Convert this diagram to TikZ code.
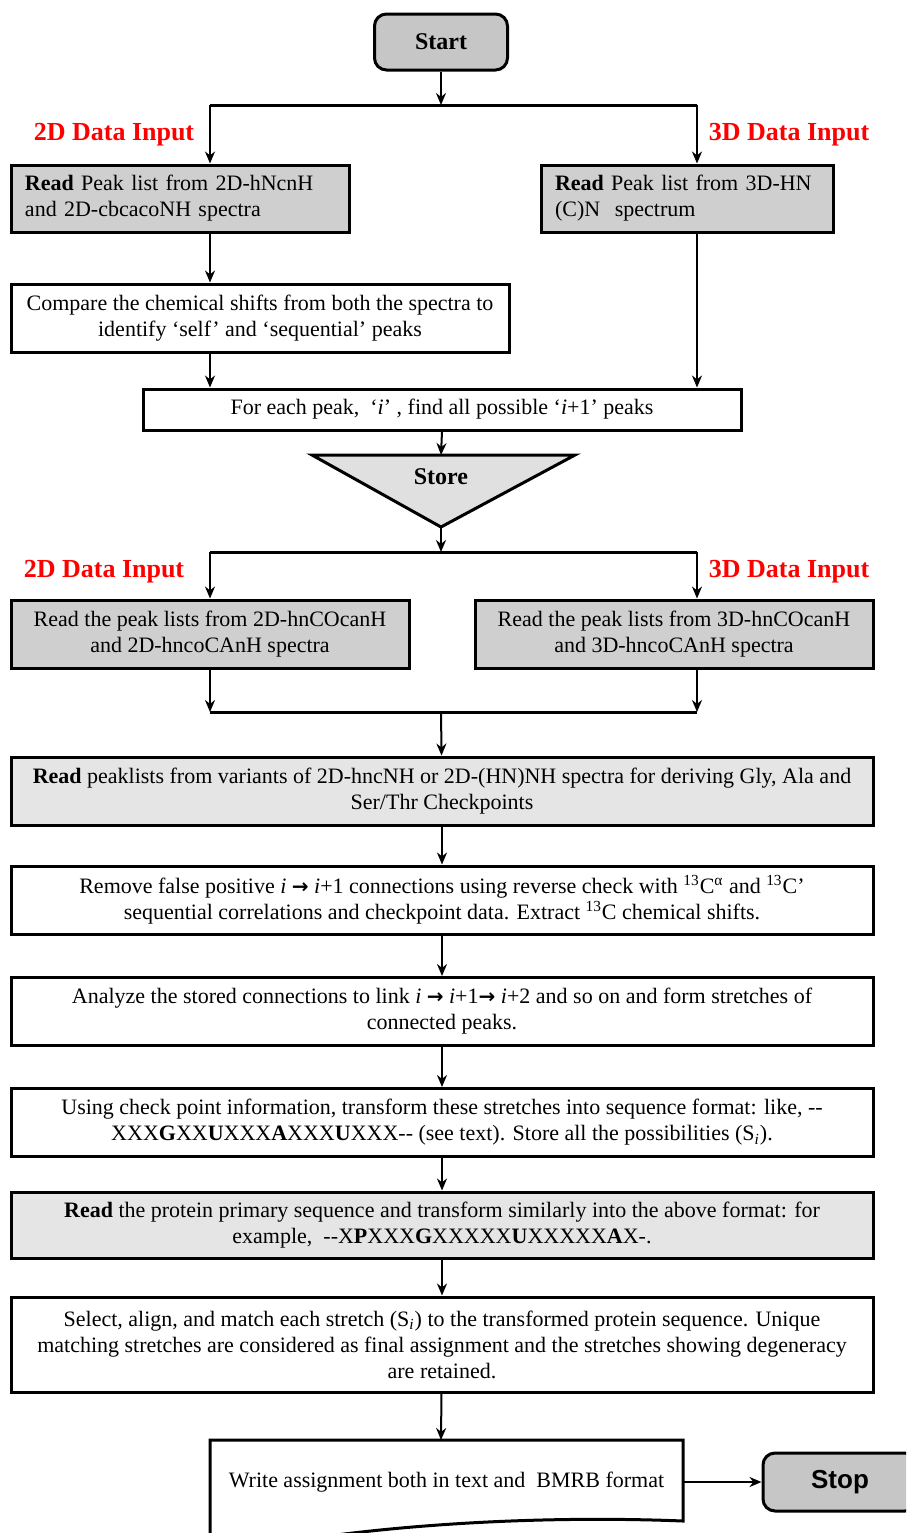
\documentclass[tikz,border=0pt]{standalone}
\usepackage{fontspec}
\setmainfont{Liberation Serif}
\newfontfamily\stopfont{Liberation Sans}
\newfontfamily\arrowfont{DejaVu Sans}
\usetikzlibrary{arrows.meta}

\newcommand{\boxsize}{\fontsize{11}{13}\selectfont}
\newcommand{\nextarr}{{\arrowfont\bfseries\fontsize{10}{13}\selectfont →}}

\tikzset{
  proc/.style={draw, line width=1.5pt, align=center, inner sep=2pt, font=\boxsize},
  procdark/.style={proc, fill=gray!38},
  proclight/.style={proc, fill=gray!20},
  wide/.style={minimum width=431pt, minimum height=34pt},
  term/.style={draw, line width=1.5pt, rounded corners=6pt, fill=gray!45},
  arr/.style={-{Stealth[length=6pt,width=5pt]}, line width=1pt},
  bus/.style={line width=1.5pt},
  inputlabel/.style={text=red, font=\fontsize{13}{15}\selectfont\bfseries}
}

\begin{document}
\begin{tikzpicture}[x=0.5pt, y=-0.5pt]
  \useasboundingbox (0,0) rectangle (906,1533);
  \clip (0,0) rectangle (906,1533);

  % start and first split
  \node[term, minimum width=66.5pt, minimum height=28pt, font=\fontsize{12}{14}\selectfont\bfseries] (start) at (441,42) {Start};
  \coordinate (top) at (441,105);
  \coordinate (topl) at (210,105);
  \coordinate (topr) at (697,105);

  \node[inputlabel] (in2da) at (114,135) {2D Data Input};
  \node[inputlabel] (in3da) at (789,135) {3D Data Input};

  \node[procdark, align=left, text width=155pt, inner xsep=7pt, minimum height=33.5pt] (peak2d) at (180,198.5)
    {\textbf{Read} Peak list from 2D-hNcnH\\and 2D-cbcacoNH spectra};
  \node[procdark, align=left, text width=132pt, inner xsep=7pt, minimum height=33.5pt] (peak3d) at (687,198.5)
    {\textbf{Read} Peak list from 3D-HN\\(C)N\ \ spectrum};

  \node[proc, minimum width=249pt, minimum height=34pt] (compare) at (260,318)
    {Compare the chemical shifts from both the spectra to\\identify\ ‘self’\ and\ ‘sequential’\ peaks};

  \node[proc, minimum width=299pt, minimum height=20.5pt] (foreach) at (442,409.5)
    {For each peak,\ \ ‘\textit{i}’ , find all possible\ ‘\textit{i}+1’ peaks};

  \draw[arr] (start) -- (top);
  \draw[bus] (topl) -- (topr);
  \draw[arr] (topl) -- (topl |- peak2d.north);
  \draw[arr] (topr) -- (topr |- peak3d.north);
  \draw[arr] (topl |- peak2d.south) -- (topl |- compare.north);
  \draw[arr] (topl |- compare.south) -- (topl |- foreach.north);
  \draw[arr] (topr |- peak3d.south) -- (topr |- foreach.north);

  % store
  \coordinate (storetop) at (441,455);
  \coordinate (storeapex) at (441,527);
  \filldraw[line width=1.5pt, fill=gray!24, line join=miter] (312,455) -- (575,455) -- (storeapex) -- cycle;
  \node[font=\fontsize{12}{14}\selectfont\bfseries] (store) at (441,477) {Store};
  \draw[arr] (foreach.south) -- (storetop);

  % second split
  \coordinate (mid) at (441,552);
  \coordinate (midl) at (210,552);
  \coordinate (midr) at (697,552);

  \node[inputlabel] (in2db) at (104,572) {2D Data Input};
  \node[inputlabel] (in3db) at (789,572) {3D Data Input};

  \node[procdark, minimum width=199pt, minimum height=34pt] (pairs2d) at (210,634)
    {Read the peak lists from 2D-hnCOcanH\\and 2D-hncoCAnH spectra};
  \node[procdark, minimum width=199pt, minimum height=34pt] (pairs3d) at (674,634)
    {Read the peak lists from 3D-hnCOcanH\\and 3D-hncoCAnH spectra};

  \coordinate (join) at (441,712);
  \coordinate (joinl) at (210,712);
  \coordinate (joinr) at (697,712);

  \draw[arr] (storeapex) -- (mid);
  \draw[bus] (midl) -- (midr);
  \draw[arr] (midl) -- (midl |- pairs2d.north);
  \draw[arr] (midr) -- (midr |- pairs3d.north);
  \draw[arr] (midl |- pairs2d.south) -- (joinl);
  \draw[arr] (midr |- pairs3d.south) -- (joinr);
  \draw[bus] (joinl) -- (joinr);

  % main column
  \node[proclight, wide] (checkpts) at (442,791)
    {\textbf{Read} peaklists from variants of 2D-hncNH or 2D-(HN)NH spectra for deriving Gly, Ala and\\Ser/Thr Checkpoints};
  \node[proc, wide] (remove) at (442,900)
    {Remove false positive \textit{i} \nextarr\ \textit{i}+1 connections using reverse check with \textsuperscript{13}C\textsuperscript{α} and \textsuperscript{13}C’\\sequential correlations and checkpoint data. Extract \textsuperscript{13}C chemical shifts.};
  \node[proc, wide] (analyze) at (442,1011.5)
    {Analyze the stored connections to link \textit{i} \nextarr\ \textit{i}+1\nextarr\ \textit{i}+2 and so on and form stretches of\\connected peaks.};
  \node[proc, wide] (transform) at (442,1122.5)
    {Using check point information, transform these stretches into sequence format: like, -{}-\\XXX\textbf{G}XX\textbf{U}XXX\textbf{A}XXX\textbf{U}XXX-{}- (see text). Store all the possibilities (S\textsubscript{\textit{i}}).};
  \node[proclight, wide, minimum height=33pt] (protein) at (442,1225)
    {\textbf{Read} the protein primary sequence and transform similarly into the above format: for\\example,\ \ -{}-X\textbf{P}XXX\textbf{G}XXXXX\textbf{U}XXXXX\textbf{A}X-.};
  \node[proc, wide, minimum height=47.5pt] (match) at (442,1344.5)
    {Select, align, and match each stretch (S\textsubscript{\textit{i}}) to the transformed protein sequence. Unique\\matching stretches are considered as final assignment and the stretches showing degeneracy\\are retained.};

  \draw[arr] (join) -- (checkpts);
  \draw[arr] (checkpts) -- (remove);
  \draw[arr] (remove) -- (analyze);
  \draw[arr] (analyze) -- (transform);
  \draw[arr] (transform) -- (protein);
  \draw[arr] (protein) -- (match);

  % output document and stop
  \filldraw[line width=1.5pt, fill=white] (210,1540) -- (210,1440) -- (683,1440) -- (683,1521)
    .. controls (560,1516) and (420,1522) .. (300,1540);
  \node[font=\boxsize, minimum width=236.5pt] (write) at (446.5,1482) {Write assignment both in text and\ \ BMRB format};
  \coordinate (writetop) at (441,1440);
  \node[term, minimum width=77pt, minimum height=29pt, font=\fontsize{13}{15}\selectfont\stopfont\bfseries] (stop) at (840,1482) {Stop};

  \draw[arr] (match) -- (writetop);
  \draw[arr] (write.east) -- (stop.west);
\end{tikzpicture}
\end{document}
